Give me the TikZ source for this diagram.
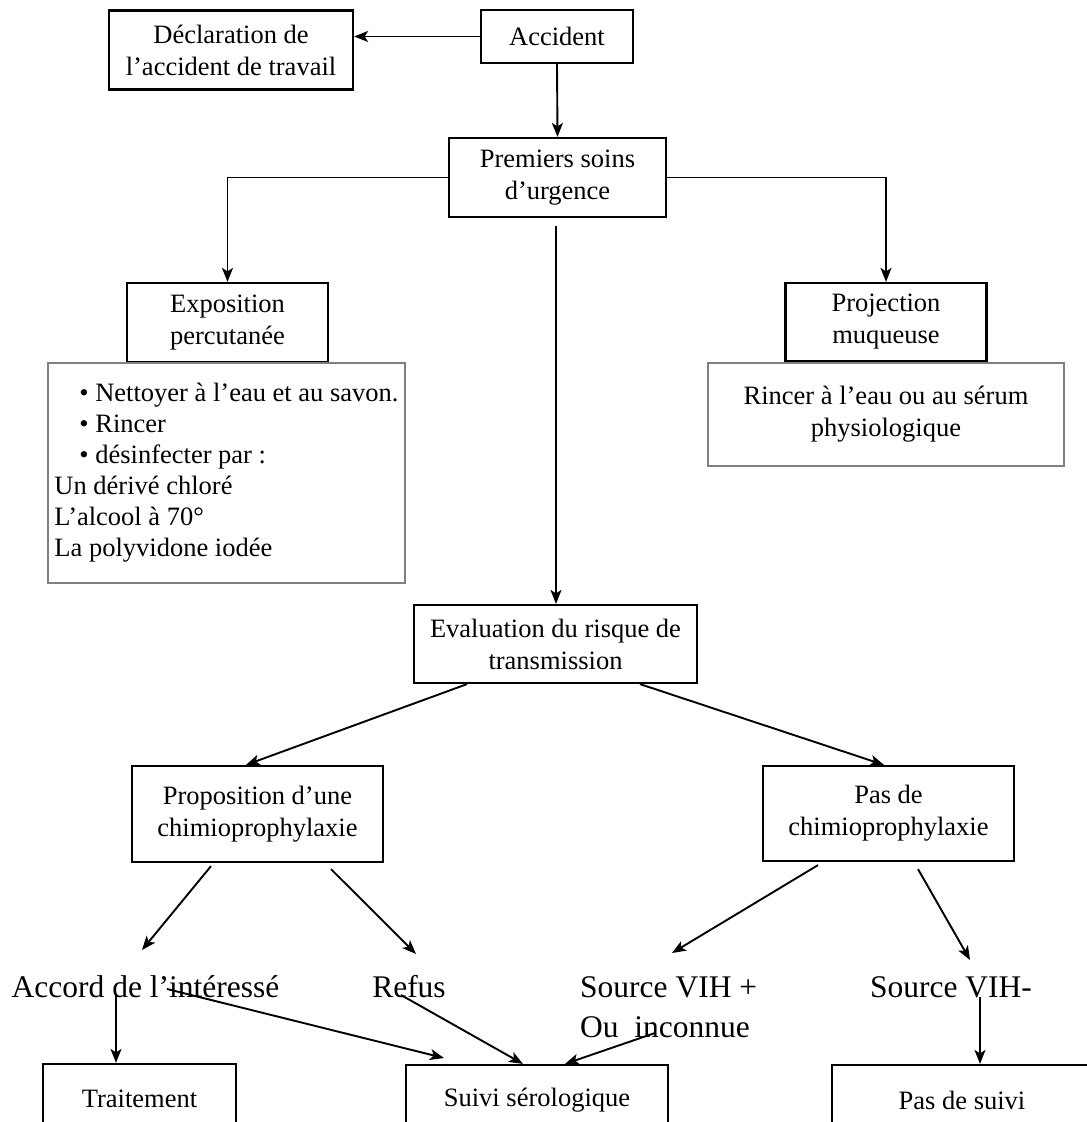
\documentclass[tikz,border=0pt]{standalone}
\usepackage{fontspec}
\setmainfont{Liberation Serif}
\usetikzlibrary{arrows.meta}
\newcommand\myfs{\fontsize{26.5}{32}\selectfont}
\newcommand\myfb{\fontsize{31.5}{40}\selectfont}
\begin{document}
\begin{tikzpicture}[x=1pt,y=-1pt,
  box/.style={draw, line width=2.2pt, align=center, inner sep=0pt, font=\myfs},
  gbox/.style={draw=black!50, line width=1.4pt, inner sep=0pt, font=\myfs},
  lab/.style={inner sep=0pt, font=\myfb, align=left},
  conn/.style={line width=1.9pt},
  arr/.style={conn, -{Stealth[length=14pt,width=11pt,inset=3.5pt]}}]
\useasboundingbox (0,0) rectangle (1087,1122);
\clip (0,0) rectangle (1087,1122);

% top
\node[box, minimum width=244, minimum height=79] (decl) at (231,50) {Déclaration de\\l’accident de travail};
\node[box, minimum width=152, minimum height=53] (acc) at (557,36.5) {Accident};
\node[box, minimum width=217, minimum height=79] (prem) at (557.5,177.5) {Premiers soins\\d’urgence};
\node[box, minimum width=201, minimum height=79] (expo) at (227.5,322.5) {Exposition\\percutanée};
\node[box, minimum width=201, minimum height=78] (proj) at (886,322) {Projection\\muqueuse};

\node[gbox, minimum width=357, minimum height=220, align=left, font={\fontsize{26.5}{31}\selectfont}] (gl) at (226.5,473)
 {\hspace*{25pt}• Nettoyer à l’eau et au savon.\\
  \hspace*{25pt}• Rincer\\
  \hspace*{25pt}• désinfecter par :\\
  Un dérivé chloré\\
  L’alcool à 70°\\
  La polyvidone iodée};
\node[gbox, minimum width=356, minimum height=103, align=center] (gr) at (886,414.5) {Rincer à l’eau ou au sérum\\physiologique};

\node[box, minimum width=283, minimum height=78] (eval) at (555.5,644) {Evaluation du risque de\\transmission};
\node[box, minimum width=251, minimum height=96] (prop) at (257.5,814) {Proposition d’une\\chimioprophylaxie};
\node[box, minimum width=251, minimum height=95] (pasde) at (888.5,813.5) {Pas de\\chimioprophylaxie};

% labels
\node[lab] (accord) at (145.5,987) {Accord de l’intéressé};
\node[lab] (refus) at (409,987) {Refus};
\node[lab, anchor=north west] (vihp) at (580,976) {Source VIH +\\Ou~~inconnue};
\node[lab] (vihm) at (951,987) {Source VIH-};

% bottom boxes
\node[box, minimum width=193, minimum height=70] (trait) at (139.5,1099) {Traitement};
\node[box, minimum width=262, minimum height=70] (suivi) at (537,1100) {Suivi sérologique};
\node[box, minimum width=260, minimum height=70] (pass) at (962,1100) {Pas de suivi};

% coordinates for free ends
\coordinate (pdown) at (556,226);
\coordinate (p1t) at (142,950);
\coordinate (p2t) at (416,954);
\coordinate (q1t) at (672,953);
\coordinate (q2t) at (970,960);
\coordinate (b1s) at (116,995);
\coordinate (b2s) at (167,989);
\coordinate (b2t) at (444,1058);
\coordinate (b3s) at (401,995);
\coordinate (b4s) at (655,1033);
\coordinate (b5s) at (980,997);

% connectors
\draw[arr] (acc.west) -- (acc.west -| decl.east);
\draw[arr] (acc.south) -- (prem.north);
\draw[arr] (prem.west) -| (expo.north);
\draw[arr] (prem.east) -| (proj.north);
\draw[arr] (pdown) -- (pdown |- eval.north);
\draw[arr] ([xshift=-88.5pt]eval.south) -- ([xshift=-11.5pt]prop.north);
\draw[arr] ([xshift=84.5pt]eval.south) -- ([xshift=-4.5pt]pasde.north);
\draw[arr] ([shift={(-46.5,3)}]prop.south) -- (p1t);
\draw[arr] ([shift={(73.5,6)}]prop.south) -- (p2t);
\draw[arr] ([shift={(-70.5,3)}]pasde.south) -- (q1t);
\draw[arr] ([shift={(29.5,7)}]pasde.south) -- (q2t);
\draw[arr] (b1s) -- (b1s |- trait.north);
\draw[arr] (b2s) -- (b2t);
\draw[arr] (b3s) -- ([xshift=-14pt]suivi.north);
\draw[arr] (b4s) -- ([xshift=28pt]suivi.north);
\draw[arr] (b5s) -- (b5s |- pass.north);
\end{tikzpicture}
\end{document}
